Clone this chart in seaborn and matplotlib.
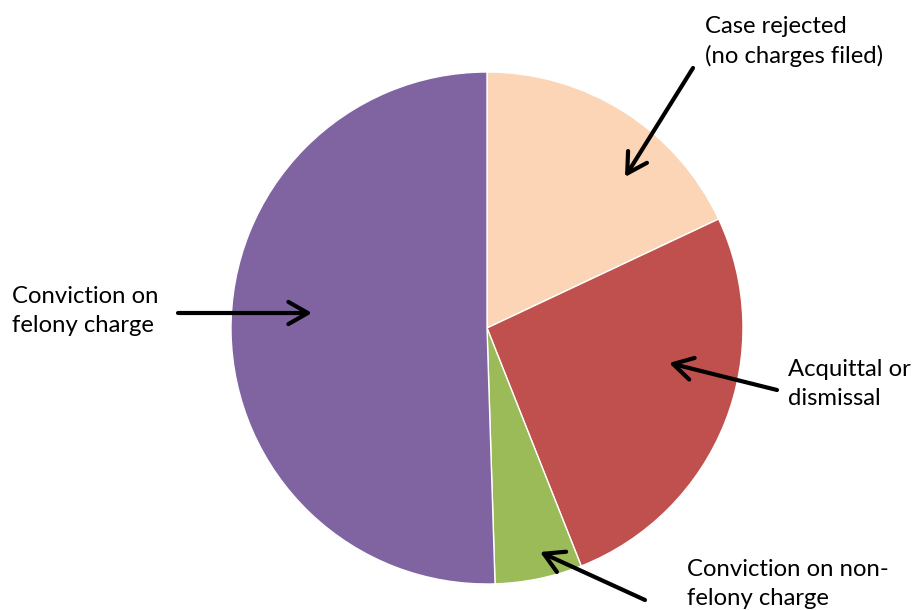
import matplotlib
matplotlib.use("Agg")
import matplotlib.pyplot as plt
import seaborn as sns

# slices clockwise from 12 o'clock (percent of cases)
categories = ["Case rejected\n(no charges filed)", "Acquittal or\ndismissal",
              "Conviction on non-\nfelony charge", "Conviction on\nfelony charge"]
shares = [18.0, 26.0, 5.5, 50.5]
slice_colors = ["#FBD5B5", "#C0504D", "#9BBB59", "#8064A2"]

sns.set_theme(style="white")
plt.rcParams["font.family"] = ["Lato", "DejaVu Sans"]

W, H = 917, 610
cx, cy, r = 487, 328, 256  # pie centre / radius in pixels

fig = plt.figure(figsize=(W / 100, H / 100), dpi=100)
ax = fig.add_axes([0, 0, 1, 1])
ax.pie(shares, colors=slice_colors, startangle=90, counterclock=False,
       wedgeprops=dict(edgecolor="white", linewidth=1))
ax.set_xlim(-cx / r, (W - cx) / r)
ax.set_ylim((cy - H) / r, cy / r)
ax.set_aspect("equal")
ax.set_axis_off()

# label text (left, last-line baseline) and arrow tail -> tip, in pixels from top-left
label_pos = [(705, 63), (788, 405), (687, 605), (12, 332)]
arrows = [((693, 68), (625, 177)),
          ((777, 390), (669, 363)),
          ((645, 600), (540, 552)),
          ((178, 313), (312, 313))]

for text, (tx, ty), (tail, tip) in zip(categories, label_pos, arrows):
    ax.text(tx, H - ty, text, transform=None, ha="left", va="baseline",
            fontsize=17.2, linespacing=1.45, color="black")
    ax.annotate("", xy=(tip[0], H - tip[1]), xycoords="figure pixels",
                xytext=(tail[0], H - tail[1]), textcoords="figure pixels",
                arrowprops=dict(arrowstyle="->,head_length=0.7,head_width=0.4",
                                color="black", lw=3, mutation_scale=20,
                                shrinkA=0, shrinkB=0))

fig.savefig("out.png", dpi=100)
